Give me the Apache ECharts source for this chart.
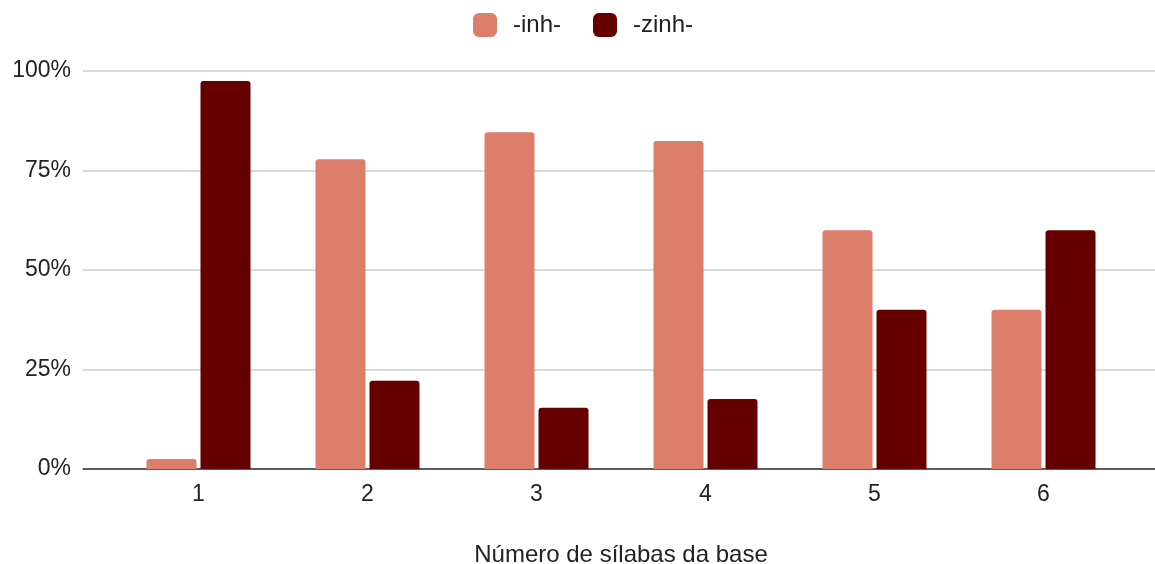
<!DOCTYPE html>
<html>
<head>
<meta charset="utf-8">
<script src="https://cdn.jsdelivr.net/npm/echarts@6/dist/echarts.min.js"></script>
<style>html,body{margin:0;padding:0;background:#fff}#c{width:1155px;height:564px}</style>
</head>
<body>
<div id="c"></div>
<script>
const categories = ['1', '2', '3', '4', '5', '6'];
const inhValues = [2.5, 77.8, 84.6, 82.4, 60, 40];
const zinhValues = [97.5, 22.2, 15.4, 17.6, 40, 60];
const yTicks = [0, 25, 50, 75, 100];
const seriesNames = ['-inh-', '-zinh-'];
const xTitle = 'Número de sílabas da base';

const FONT = '"Liberation Sans", Arial, sans-serif';
const chart = echarts.init(document.getElementById('c'), null, {renderer: 'canvas'});
const gridTop = 71, gridBottom = 95;
chart.setOption({
  animation: false,
  textStyle: {fontFamily: FONT},
  legend: {
    top: 8, left: 468,
    itemWidth: 24, itemHeight: 24, itemGap: 32,
    icon: 'roundRect',
    textStyle: {fontSize: 24, color: '#222', fontFamily: FONT, padding: [0, 0, 0, 11]},
    data: seriesNames
  },
  grid: [
    {left: 83, right: 0, top: gridTop, bottom: gridBottom, outerBoundsMode: 'none', containLabel: false},
    {left: 114, right: 27, top: gridTop, bottom: gridBottom, outerBoundsMode: 'none', containLabel: false}
  ],
  xAxis: [
    {gridIndex: 0, type: 'value', min: 0, max: 1, axisLine: {show: true, lineStyle: {color: '#333', width: 1.5}},
     axisTick: {show: false}, axisLabel: {show: false}, splitLine: {show: false}},
    {gridIndex: 1, type: 'category', data: categories, axisLine: {show: false}, axisTick: {show: false},
     axisLabel: {fontSize: 23, color: '#222', margin: 14, fontFamily: FONT},
     name: xTitle, nameLocation: 'middle', nameGap: 74,
     nameTextStyle: {fontSize: 24, color: '#222', fontFamily: FONT}}
  ],
  yAxis: [
    {gridIndex: 0, type: 'value', min: yTicks[0], max: yTicks[yTicks.length - 1], interval: 25,
     axisLine: {show: false}, axisTick: {show: false},
     axisLabel: {fontSize: 23, color: '#222', margin: 12, formatter: v => v + '%', fontFamily: FONT,
       padding: [3, 0, 0, 0]},
     splitLine: {lineStyle: {color: '#cccccc', width: 1.5}}},
    {gridIndex: 1, type: 'value', min: 0, max: 100, show: false, splitLine: {show: false}}
  ],
  series: [
    {name: seriesNames[0], type: 'bar', xAxisIndex: 1, yAxisIndex: 1, data: inhValues,
     itemStyle: {color: '#dd7e6b', borderRadius: [3, 3, 0, 0]}, barWidth: 50, barGap: '8%', z: 3},
    {name: seriesNames[1], type: 'bar', xAxisIndex: 1, yAxisIndex: 1, data: zinhValues,
     itemStyle: {color: '#660000', borderRadius: [3, 3, 0, 0]}, barWidth: 50, barGap: '8%', z: 3}
  ]
});
</script>
</body>
</html>
